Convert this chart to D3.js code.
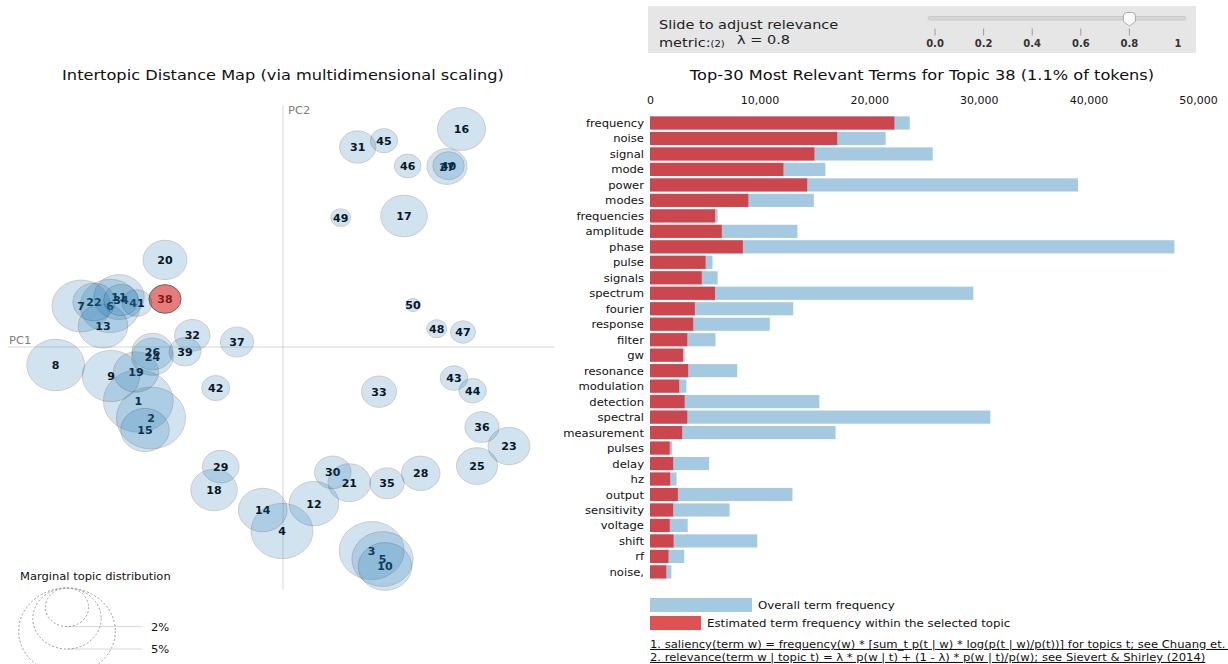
<!DOCTYPE html>
<html><head><meta charset="utf-8">
<script src="https://cdn.jsdelivr.net/npm/d3@7"></script>
<style>
body{margin:0;background:#fff;}
svg text{font-family:"DejaVu Sans",sans-serif;}
</style></head><body>
<svg id="chart" width="1228" height="664"></svg>
<script>
// ---------------- DATA ----------------
const topicLabels = [1,2,3,4,5,6,7,8,9,10,11,12,13,14,15,16,17,18,19,20,21,22,23,24,25,26,27,28,29,30,31,32,33,34,35,36,37,38,39,40,41,42,43,44,45,46,47,48,49,50];
const topicPC1 = [-0.1447,-0.132,0.0887,-0.001,0.0995,-0.173,-0.202,-0.2273,-0.172,0.102,-0.164,0.031,-0.18,-0.0203,-0.138,0.1785,0.121,-0.069,-0.147,-0.118,0.0663,-0.189,0.226,-0.1305,0.194,-0.1305,0.164,0.1377,-0.0623,0.0497,0.0747,-0.0907,0.096,-0.162,0.104,0.199,-0.046,-0.118,-0.098,0.1655,-0.146,-0.0673,0.171,0.1897,0.101,0.1247,0.18,0.1537,0.0577,0.13];
const topicPC2 = [-0.0609,-0.0801,-0.2296,-0.2076,-0.2392,0.0463,0.0463,-0.0203,-0.0327,-0.2476,0.0564,-0.1766,0.0237,-0.1839,-0.0936,0.2459,0.1478,-0.1613,-0.0282,0.0982,-0.1531,0.0508,-0.1117,-0.0109,-0.1343,-0.0051,0.2036,-0.1425,-0.135,-0.1414,0.2256,0.0132,-0.0504,0.053,-0.1538,-0.0903,0.0056,0.0542,-0.0053,0.2045,0.0496,-0.0463,-0.035,-0.0493,0.2327,0.2042,0.0169,0.0206,0.1459,0.0474];
const topicFreq = [5.2,5.1,4.5,4.1,4.0,3.8,3.6,3.55,3.52,3.05,2.7,2.63,2.61,2.53,2.5,2.46,2.32,2.3,2.17,2.07,1.92,1.89,1.87,1.85,1.8,1.78,1.71,1.58,1.43,1.42,1.4,1.34,1.31,1.29,1.27,1.26,1.19,1.1,1.09,1.05,0.95,0.84,0.81,0.8,0.79,0.76,0.67,0.43,0.42,0.23];
const selectedTopic = 38;

const terms = ["frequency","noise","signal","mode","power","modes","frequencies","amplitude","phase","pulse","signals","spectrum","fourier","response","filter","gw","resonance","modulation","detection","spectral","measurement","pulses","delay","hz","output","sensitivity","voltage","shift","rf","noise,"];
const overallFreq = [23700,21500,25800,16000,39050,14950,6170,13450,47850,5700,6170,29500,13070,10930,5980,3160,7960,3320,15450,31050,16930,2030,5390,2420,13000,7260,3440,9790,3120,1950];
const topicTermFreq = [22300,17080,15000,12170,14340,8970,5930,6550,8470,5070,4720,5930,4090,3940,3400,3010,3480,2660,3160,3400,2930,1800,2110,1840,2540,2110,1800,2150,1680,1480];

const lambdaValue = 0.8;
const lambdaTicks = [0, 0.2, 0.4, 0.6, 0.8, 1];
const lambdaTickLabels = ["0.0","0.2","0.4","0.6","0.8","1"];
const legendSizes = [2, 5, 10];
const legendLabels = ["2%", "5%", "10%"];

// ---------------- DRAW ----------------
const svg = d3.select("#chart");
const blue = "#1f77b4", red = "#d62728";
const SY = 0.9; // vertical squish of text, as in the reference

function txt(parent, x, y, size, str, anchor) {
  return parent.append("text")
    .attr("transform", `translate(${x},${y}) scale(1,${SY})`)
    .attr("font-size", size).attr("fill", "#111")
    .attr("text-anchor", anchor || "start").text(str);
}

// --- slider panel ---
svg.append("rect").attr("x", 648).attr("y", 6).attr("width", 548).attr("height", 47).attr("fill", "#e6e6e6");
txt(svg, 659, 29, 14.5, "Slide to adjust relevance").attr("fill", "#222");
const m = txt(svg, 659, 47, 14.5, "").attr("fill", "#222");
m.append("tspan").text("metric:");
m.append("tspan").attr("font-size", 10).text("(2)");
txt(svg, 737, 44, 14.5, "λ = " + lambdaValue).attr("fill", "#222");
const ls = d3.scaleLinear().domain([0, 1]).range([935, 1178]);
svg.append("rect").attr("x", 928).attr("y", 16.5).attr("width", 258).attr("height", 3.5).attr("rx", 1.75)
  .attr("fill", "#d6d6d6").attr("stroke", "#bdbdbd").attr("stroke-width", 0.6);
const hx = ls(lambdaValue);
svg.append("path")
  .attr("d", `M${hx-6},16 Q${hx-6},12.5 ${hx-2.5},12.5 L${hx+2.5},12.5 Q${hx+6},12.5 ${hx+6},16 L${hx+6},21.5 L${hx},26 L${hx-6},21.5 Z`)
  .attr("fill", "#fcfcfc").attr("stroke", "#9a9a9a").attr("stroke-width", 0.8);
svg.selectAll(".ltick").data(lambdaTicks.slice(0, 5)).enter().append("line")
  .attr("x1", d => ls(d)).attr("x2", d => ls(d)).attr("y1", 28.5).attr("y2", 35.5)
  .attr("stroke", "#888").attr("stroke-width", 0.8);
svg.selectAll(".llab").data(lambdaTicks).enter().append("text")
  .attr("x", d => ls(d)).attr("y", 47).attr("text-anchor", "middle")
  .attr("font-size", 10).attr("font-weight", "bold").attr("fill", "#333")
  .text((d, i) => lambdaTickLabels[i]);

// --- left panel: MDS ---
txt(svg, 283, 80, 16.2, "Intertopic Distance Map (via multidimensional scaling)", "middle");
const xs = d3.scaleLinear().domain([-0.275, 0.272]).range([8, 555]);
const ys = d3.scaleLinear().domain([-0.273, 0.273]).range([589, 105]);
const rs = d3.scaleSqrt().domain([0, 1]).range([0, 13.65]);
const aspect = 1.12;

svg.append("line").attr("x1", xs(0)).attr("x2", xs(0)).attr("y1", 105).attr("y2", 589).attr("stroke", "gray").attr("opacity", 0.3);
svg.append("line").attr("x1", 8).attr("x2", 555).attr("y1", ys(0)).attr("y2", ys(0)).attr("stroke", "gray").attr("opacity", 0.3);
txt(svg, 9, 344, 11.5, "PC1").attr("fill", "gray");
txt(svg, 288, 114, 11.5, "PC2").attr("fill", "gray");

const topics = topicLabels.map((t, i) => ({t, x: topicPC1[i], y: topicPC2[i], f: topicFreq[i]}));
svg.selectAll(".tl").data(topics).enter().append("text")
  .attr("x", d => xs(d.x)).attr("y", d => ys(d.y) + 4).attr("text-anchor", "middle")
  .attr("font-size", 11).attr("font-weight", "bold").attr("fill", "#000").text(d => d.t);
svg.selectAll(".tc").data(topics).enter().append("ellipse")
  .attr("cx", d => xs(d.x)).attr("cy", d => ys(d.y))
  .attr("rx", d => rs(d.f) * aspect).attr("ry", d => rs(d.f))
  .attr("stroke", "black")
  .attr("fill", d => d.t === selectedTopic ? red : blue)
  .attr("opacity", d => d.t === selectedTopic ? 0.6 : 0.2);

// marginal legend
txt(svg, 20, 580, 11.5, "Marginal topic distribution");
const legTop = 588, lcx = 67, lcx2 = 142;
legendSizes.forEach((s, i) => {
  const r = rs(s);
  svg.append("ellipse").attr("cx", lcx).attr("cy", legTop + r).attr("rx", r * aspect).attr("ry", r)
    .attr("fill", "none").attr("stroke", "#999").attr("stroke-dasharray", "2 2");
  svg.append("line").attr("x1", lcx).attr("x2", lcx2).attr("y1", legTop + 2 * r).attr("y2", legTop + 2 * r)
    .attr("stroke", "gray").attr("opacity", 0.3);
  txt(svg, lcx2 + 9, legTop + 2 * r + 4, 11.5, legendLabels[i]);
});

// --- right panel: bars ---
txt(svg, 922, 80, 16.2, "Top-30 Most Relevant Terms for Topic " + selectedTopic + " (1.1% of tokens)", "middle");
const bx = d3.scaleLinear().domain([0, d3.max(overallFreq)]).nice().range([650, 1198]);
const by = d3.scaleBand().domain(terms).range([114.1, 580.8]).padding(0.15);
const xAxis = d3.axisTop(bx).ticks(6).tickFormat(d3.format(",")).tickSize(0);
const ax = svg.append("g").attr("transform", "translate(0,107)").call(xAxis);
ax.select(".domain").remove();
ax.selectAll("text").attr("font-size", 11).attr("fill", "#111").attr("font-family", "DejaVu Sans");

const rows = terms.map((t, i) => ({t, total: overallFreq[i], topic: topicTermFreq[i]}));
svg.selectAll(".bo").data(rows).enter().append("rect")
  .attr("x", bx(0)).attr("y", d => by(d.t)).attr("width", d => bx(d.total) - bx(0)).attr("height", by.bandwidth())
  .attr("fill", blue).attr("opacity", 0.4);
svg.selectAll(".bt").data(rows).enter().append("rect")
  .attr("x", bx(0)).attr("y", d => by(d.t)).attr("width", d => bx(d.topic) - bx(0)).attr("height", by.bandwidth())
  .attr("fill", red).attr("opacity", 0.8);
rows.forEach(d => txt(svg, 644, by(d.t) + by.bandwidth() / 2 + 4, 11.6, d.t, "end"));

// legend
svg.append("rect").attr("x", 650).attr("y", 598).attr("width", 102).attr("height", 14).attr("fill", blue).attr("opacity", 0.4);
txt(svg, 758, 609, 11.8, "Overall term frequency");
svg.append("rect").attr("x", 650).attr("y", 616).attr("width", 51).attr("height", 14).attr("fill", red).attr("opacity", 0.8);
txt(svg, 707, 627, 11.8, "Estimated term frequency within the selected topic");
txt(svg, 650, 648, 11.6, "1. saliency(term w) = frequency(w) * [sum_t p(t | w) * log(p(t | w)/p(t))] for topics t; see Chuang et. al (2012)")
  .attr("text-decoration", "underline");
txt(svg, 650, 661, 11.6, "2. relevance(term w | topic t) = λ * p(w | t) + (1 - λ) * p(w | t)/p(w); see Sievert & Shirley (2014)")
  .attr("text-decoration", "underline");
</script>
</body></html>
